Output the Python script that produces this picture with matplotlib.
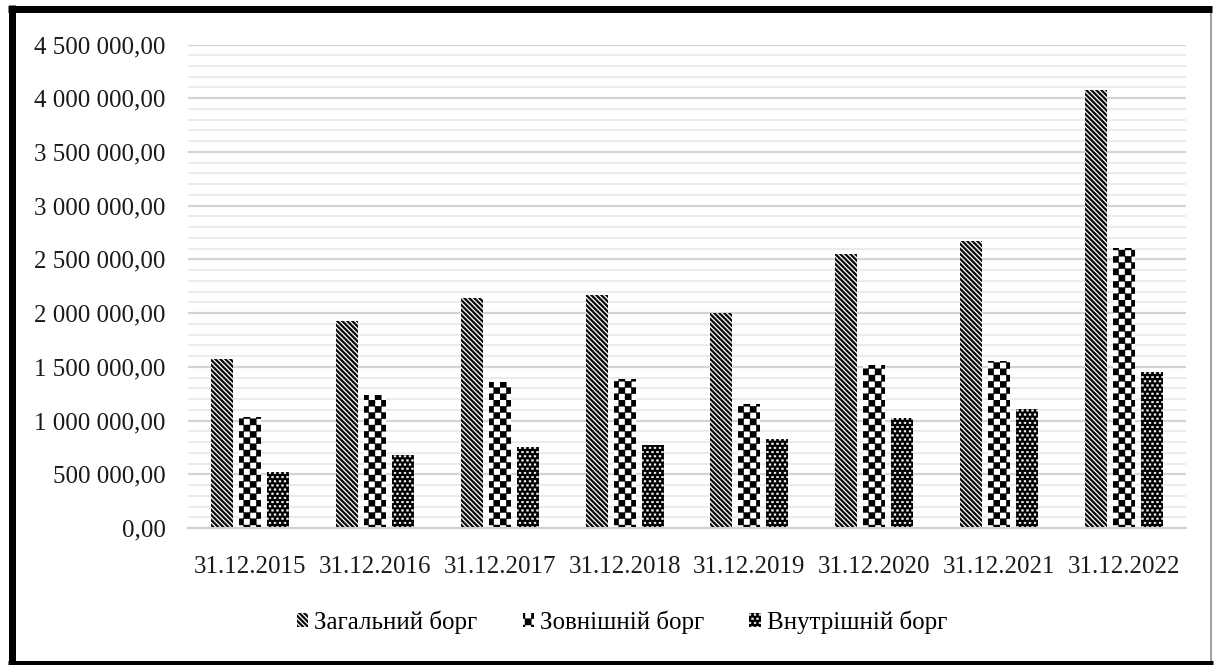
import numpy as np
import matplotlib
matplotlib.use("Agg")
import matplotlib.pyplot as plt
import matplotlib.hatch as mhatch
from matplotlib.path import Path
from matplotlib.lines import Line2D
from matplotlib.ticker import MultipleLocator, FuncFormatter

# ---------------- data ----------------
categories = ["31.12.2015", "31.12.2016", "31.12.2017", "31.12.2018",
              "31.12.2019", "31.12.2020", "31.12.2021", "31.12.2022"]
series_names = ["Загальний борг", "Зовнішній борг", "Внутрішній борг"]
total_debt = [1572180, 1929760, 2141670, 2168630, 1998300, 2551940, 2671140, 4073000]
external_debt = [1030000, 1235000, 1362000, 1390000, 1150000, 1515000, 1550000, 2605000]
internal_debt = [525000, 675000, 758000, 768000, 832000, 1025000, 1110000, 1448000]


# ---------------- custom filled hatch patterns ----------------
def _rect(x0, y0, x1, y1):
    return ([[x0, y0], [x1, y0], [x1, y1], [x0, y1], [x0, y0]],
            [Path.MOVETO, Path.LINETO, Path.LINETO, Path.LINETO, Path.CLOSEPOLY])


class CheckerHatch(mhatch.HatchPatternBase):
    """'O' -> checkerboard of filled squares."""
    n = 16

    def __init__(self, hatch, density):
        self.on = hatch.count('O') > 0
        self.num_vertices = 5 * (self.n * self.n // 2) if self.on else 0

    def set_vertices_and_codes(self, vertices, codes):
        n, s = self.n, 1.0 / self.n
        vs, cs = [], []
        for i in range(n):
            for j in range(n):
                if (i + j) % 2 == 0:
                    v, c = _rect(i * s, j * s, (i + 1) * s, (j + 1) * s)
                    vs += v
                    cs += c
        vertices[:] = np.array(vs)
        codes[:] = np.array(cs, dtype=Path.code_type)


class DiagBandHatch(mhatch.HatchPatternBase):
    """'\\' -> filled diagonal bands running top-left to bottom-right."""
    n = 20
    frac = 0.5

    def __init__(self, hatch, density):
        self.on = hatch.count('\\') > 0
        self.num_vertices = 5 * (2 * self.n + 1) if self.on else 0

    def set_vertices_and_codes(self, vertices, codes):
        n = self.n
        w = self.frac / n
        vs, cs = [], []
        for k in range(2 * n + 1):
            c = k / n
            vs += [[0, c], [0, c + w], [1, c + w - 1], [1, c - 1], [0, c]]
            cs += [Path.MOVETO, Path.LINETO, Path.LINETO, Path.LINETO, Path.CLOSEPOLY]
        vertices[:] = np.array(vs)
        codes[:] = np.array(cs, dtype=Path.code_type)


class DotHatch(mhatch.HatchPatternBase):
    """'o' -> staggered grid of small filled dots."""
    nx = 20
    ny = 24
    dw = 0.38
    dh = 0.38

    def __init__(self, hatch, density):
        self.on = hatch.count('o') > 0
        self.num_vertices = 5 * (self.nx + 1) * self.ny if self.on else 0

    def set_vertices_and_codes(self, vertices, codes):
        sx, sy = 1.0 / self.nx, 1.0 / self.ny
        hw, hh = self.dw * sx / 2, self.dh * sy / 2
        vs, cs = [], []
        for r in range(self.ny):
            off = (r % 2) * sx / 2
            yc = (r + 0.5) * sy
            for i in range(self.nx + 1):
                xc = i * sx + off
                v, c = _rect(xc - hw, yc - hh, xc + hw, yc + hh)
                vs += v
                cs += c
        vertices[:] = np.array(vs)
        codes[:] = np.array(cs, dtype=Path.code_type)


_replace = {'LargeCircles': CheckerHatch,
            'SouthEastHatch': DiagBandHatch,
            'NorthWestHatch': DiagBandHatch,
            'SmallCircles': DotHatch}
mhatch._hatch_types = [_replace.get(t.__name__, t) for t in mhatch._hatch_types]

plt.rcParams['font.family'] = ['Liberation Serif', 'DejaVu Serif']
plt.rcParams['hatch.linewidth'] = 0.3

W, H = 1216, 665
fig = plt.figure(figsize=(W / 100, H / 100), dpi=100)
fig.patch.set_facecolor('white')

ax = fig.add_axes([188 / W, 1 - 528 / H, (1186 - 188) / W, (528 - 44.5) / H])

x = np.arange(len(categories))
width = 0.176
pitch = 0.224

b1 = ax.bar(x - pitch, total_debt, width, facecolor='white', edgecolor='black',
            linewidth=0, hatch='\\', label=series_names[0], zorder=3)
b2 = ax.bar(x, external_debt, width, facecolor='white', edgecolor='black',
            linewidth=0, hatch='O', label=series_names[1], zorder=3)
b3 = ax.bar(x + pitch, internal_debt, width, facecolor='black', edgecolor='white',
            linewidth=0, hatch='o', label=series_names[2], zorder=3)

ax.set_xlim(-0.5, len(categories) - 0.5)
ax.set_ylim(0, 4500000)
ax.yaxis.set_major_locator(MultipleLocator(500000))
ax.yaxis.set_minor_locator(MultipleLocator(100000))


def fmt(v, pos):
    s = f"{v:,.2f}"
    return s.replace(",", " ").replace(".", ",")


ax.yaxis.set_major_formatter(FuncFormatter(fmt))
ax.grid(which='major', axis='y', color='#d4d4d4', linewidth=1.6, zorder=0)
ax.grid(which='minor', axis='y', color='#ebebeb', linewidth=1.4, zorder=0)
ax.set_axisbelow(True)

ax.set_xticks(x)
ax.set_xticklabels(categories)
ax.tick_params(axis='both', which='both', length=0, labelsize=18, colors='#1a1a1a')
ax.tick_params(axis='y', pad=16)
ax.tick_params(axis='x', pad=20)

for s in ['top', 'right', 'left']:
    ax.spines[s].set_visible(False)
ax.spines['bottom'].set_color('#cfcfcf')
ax.spines['bottom'].set_linewidth(1.5)
ax.spines['bottom'].set_zorder(4)

leg = fig.legend(handles=[b1, b2, b3], labels=series_names, loc='center',
                 bbox_to_anchor=(622 / W, 1 - 622 / H), ncol=3, frameon=False,
                 fontsize=18, handlelength=0.45, handleheight=0.45,
                 handletextpad=0.25, columnspacing=1.8)


# ---------------- outer frame (pixel coords -> figure fraction) ----------------
def fx(px):
    return px / W


def fy(py):
    return 1 - py / H


PT = 0.72  # points per pixel at dpi 100
fig.add_artist(Line2D([fx(1210.5), fx(1210.5)], [fy(9), fy(661)], color='#a0a0a0',
                      linewidth=2 * PT, transform=fig.transFigure, solid_capstyle='butt'))
fig.add_artist(Line2D([fx(11.5), fx(11.5)], [fy(5), fy(665)], color='black',
                      linewidth=7 * PT, transform=fig.transFigure, solid_capstyle='butt'))
fig.add_artist(Line2D([fx(8), fx(1212)], [fy(9), fy(9)], color='black',
                      linewidth=7 * PT, transform=fig.transFigure, solid_capstyle='butt'))
fig.add_artist(Line2D([fx(8), fx(1213)], [fy(662.5), fy(662.5)], color='black',
                      linewidth=5 * PT, transform=fig.transFigure, solid_capstyle='butt'))

fig.savefig("out.png", dpi=100)
